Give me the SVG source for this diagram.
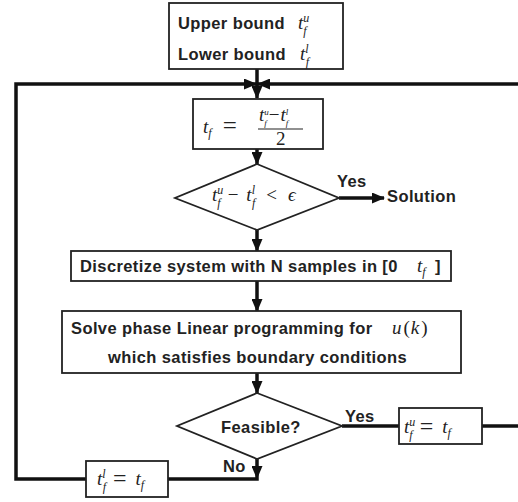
<svg xmlns="http://www.w3.org/2000/svg" width="518" height="502" viewBox="0 0 518 502">
<style>
.box{fill:#fff;stroke:#222;stroke-width:1.8}
.lbl{font-family:"Liberation Sans",Arial,sans-serif;font-weight:bold;font-size:16.5px;letter-spacing:0.4px;fill:#222}
.m{font-family:"Liberation Serif","Times New Roman",serif;font-style:italic;font-size:19px;fill:#222}
.sc{font-size:12px}
.up{font-style:normal}
.c{fill:none;stroke:#111;stroke-width:3.5}
</style>
<defs>
<marker id="ah" markerWidth="13" markerHeight="11" refX="12" refY="5.5" orient="auto" markerUnits="userSpaceOnUse">
<path d="M0,0 L13,5.5 L0,11 Z" fill="#111"/>
</marker>
</defs>
<g id="connectors">
<line class="c" x1="257" y1="69" x2="257" y2="98" marker-end="url(#ah)"/>
<polyline class="c" points="86,479 16,479 16,84 256,84" marker-end="url(#ah)"/>
<line class="c" x1="518" y1="84" x2="258" y2="84" marker-end="url(#ah)"/>
<line class="c" x1="257" y1="149" x2="257" y2="164" marker-end="url(#ah)"/>
<line class="c" x1="257" y1="230" x2="257" y2="251" marker-end="url(#ah)"/>
<line class="c" x1="339" y1="198" x2="384" y2="198" marker-end="url(#ah)"/>
<line class="c" x1="257" y1="281" x2="257" y2="311" marker-end="url(#ah)"/>
<line class="c" x1="257" y1="373" x2="257" y2="393" marker-end="url(#ah)"/>
<line class="c" x1="342" y1="426" x2="399" y2="426"/>
<line class="c" x1="482" y1="426" x2="518" y2="426"/>
<line class="c" x1="257" y1="459" x2="257" y2="478" marker-end="url(#ah)"/>
<polyline class="c" points="257,478 257,479 168,479"/>
<text class="lbl" x="337" y="187">Yes</text>
<text class="lbl" x="345" y="422">Yes</text>
<text class="lbl" x="223" y="472">No</text>
</g>
<g id="bounds">
<rect class="box" x="169" y="3" width="174" height="66"/>
<text class="lbl" x="178" y="29">Upper bound</text>
<text class="m" x="298" y="29">t<tspan class="sc" dy="-7">u</tspan><tspan class="sc" dx="-6" dy="13">f</tspan></text>
<text class="lbl" x="178" y="60">Lower bound</text>
<text class="m" x="300" y="60">t<tspan class="sc" dy="-7">l</tspan><tspan class="sc" dx="-3" dy="13">f</tspan></text>
</g>
<g id="midpoint">
<rect class="box" x="193" y="99" width="130" height="50"/>
<text class="m" x="203" y="133">t<tspan class="sc" dy="4">f</tspan><tspan class="up" font-size="25" dx="11" dy="-3">=</tspan></text>
<text class="m" x="259" y="121" font-size="15">t<tspan font-size="9" dy="-6">u</tspan><tspan font-size="9" dx="-4.5" dy="11">f</tspan><tspan class="up" dx="2" dy="-5">−</tspan><tspan dx="1">t</tspan><tspan font-size="9" dy="-6">l</tspan><tspan font-size="9" dx="-2.5" dy="11">f</tspan></text>
<line x1="258" y1="129" x2="303" y2="129" stroke="#222" stroke-width="1.2"/>
<text class="m up" x="276" y="145" font-size="15">2</text>
</g>
<g id="check">
<polygon class="box" points="257,164 339,198 257,230 175,198"/>
<text class="m" x="212" y="201">t<tspan class="sc" dy="-7">u</tspan><tspan class="sc" dx="-6" dy="13">f</tspan><tspan class="up" dx="7" dy="-6">−</tspan><tspan dx="8">t</tspan><tspan class="sc" dy="-7">l</tspan><tspan class="sc" dx="-3" dy="13">f</tspan><tspan class="up" dx="11" dy="-6">&lt;</tspan><tspan dx="11">ϵ</tspan></text>
</g>
<g id="solution">
<text class="lbl" x="387" y="202">Solution</text>
</g>
<g id="discretize">
<rect class="box" x="71" y="251" width="380" height="30"/>
<text class="lbl" x="80" y="272">Discretize system with N samples in [0</text>
<text class="m" x="417" y="272">t<tspan class="sc" dy="4">f</tspan></text>
<text class="lbl" x="435" y="272">]</text>
</g>
<g id="solve">
<rect class="box" x="62" y="311" width="399" height="62"/>
<text class="lbl" x="71" y="334">Solve phase Linear programming for</text>
<text class="m" x="392" y="334" font-size="21">u<tspan class="up" dx="2">(</tspan><tspan dx="1">k</tspan><tspan class="up" dx="2">)</tspan></text>
<text class="lbl" x="108" y="363">which satisfies boundary conditions</text>
</g>
<g id="feasible">
<polygon class="box" points="257,393 342,426 257,459 177,426"/>
<text class="lbl" x="221" y="433">Feasible?</text>
</g>
<g id="upper-update">
<rect class="box" x="399" y="408" width="83" height="36"/>
<text class="m" x="404" y="433">t<tspan class="sc" dy="-7">u</tspan><tspan class="sc" dx="-6" dy="13">f</tspan><tspan class="up" font-size="24" dx="7" dy="-5">=</tspan><tspan dx="9" dy="-1">t</tspan><tspan class="sc" dy="4">f</tspan></text>
</g>
<g id="lower-update">
<rect class="box" x="86" y="461" width="82" height="36"/>
<text class="m" x="97" y="485">t<tspan class="sc" dy="-7">l</tspan><tspan class="sc" dx="-3" dy="13">f</tspan><tspan class="up" font-size="24" dx="7" dy="-5">=</tspan><tspan dx="9" dy="-1">t</tspan><tspan class="sc" dy="4">f</tspan></text>
</g>
</svg>
